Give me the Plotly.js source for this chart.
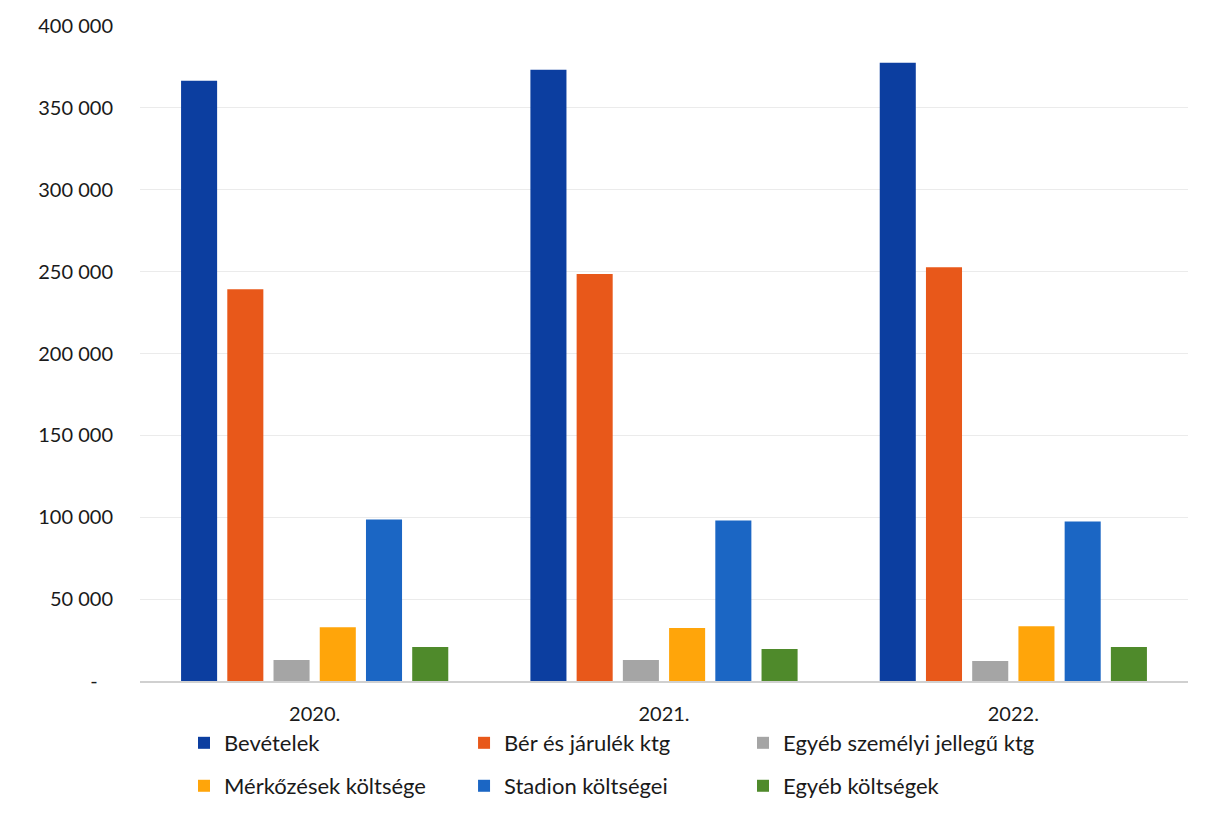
<!DOCTYPE html>
<html><head><meta charset="utf-8">
<script src="https://cdn.plot.ly/plotly-3.0.1.min.js"></script>
<style>html,body{margin:0;padding:0;background:#fff}#chart{width:1206px;height:818px}</style>
</head><body><div id="chart"></div>
<script>
const years = ["2020.", "2021.", "2022."];
const seriesNames = ["Bevételek", "Bér és járulék ktg", "Egyéb személyi jellegű ktg", "Mérkőzések költsége", "Stadion költségei", "Egyéb költségek"];
const bevetelek = [366500, 373300, 377600];
const berJarulek = [239300, 248500, 252700];
const egyebSzemelyi = [12800, 12800, 12200];
const merkozesek = [32900, 32300, 33500];
const stadion = [98700, 98000, 97400];
const egyebKoltsegek = [20700, 19500, 20700];
const tickVals = [0, 50000, 100000, 150000, 200000, 250000, 300000, 350000, 400000];
const tickText = ["-\u00a0\u00a0\u00a0", "50 000", "100 000", "150 000", "200 000", "250 000", "300 000", "350 000", "400 000"];

const colors = ["#0c3ea0", "#e8581a", "#a5a5a5", "#ffa50a", "#1b66c4", "#4f8a2b"];
const values = [bevetelek, berJarulek, egyebSzemelyi, merkozesek, stadion, egyebKoltsegek];
const legendIds = ["legend", "legend2", "legend3", "legend4", "legend5", "legend6"];

const traces = values.map((v, i) => ({
  type: "bar", x: years, y: v, name: seriesNames[i],
  marker: {color: colors[i]},
  legend: legendIds[i],
  hoverinfo: "skip"
}));

const colX = [0.0420, 0.3092, 0.5754];
const rowY = [-0.093, -0.1585];

const layout = {
  width: 1206, height: 818,
  margin: {l: 140, r: 18, t: 26, b: 136},
  paper_bgcolor: "#fff", plot_bgcolor: "#fff",
  font: {family: "Lato, 'Open Sans', sans-serif", size: 20, color: "#1a1a1a"},
  barmode: "group", bargap: 0.206, bargroupgap: 0.22,
  showlegend: true,
  xaxis: {
    type: "category", showgrid: false, zeroline: false,
    showline: true, linecolor: "#d0d0d0", linewidth: 1.5,
    ticks: "", ticklabelstandoff: 14,
    tickfont: {size: 20, color: "#1a1a1a"}
  },
  yaxis: {
    range: [0, 400000], tickvals: tickVals, ticktext: tickText,
    showgrid: true, gridcolor: "#ebebeb", gridwidth: 1,
    zeroline: false, showline: false, ticks: "",
    ticklabelstandoff: 26,
    tickfont: {size: 20, color: "#1a1a1a"}
  }
};

legendIds.forEach((id, i) => {
  layout[id] = {
    orientation: "h", xanchor: "left", yanchor: "middle",
    x: colX[i % 3], y: rowY[Math.floor(i / 3)],
    font: {family: "Lato, 'Open Sans', sans-serif", size: 22, color: "#1a1a1a"},
    itemwidth: 30, bgcolor: "rgba(0,0,0,0)"
  };
});

Plotly.newPlot("chart", traces, layout, {displayModeBar: false, staticPlot: true});
</script></body></html>
